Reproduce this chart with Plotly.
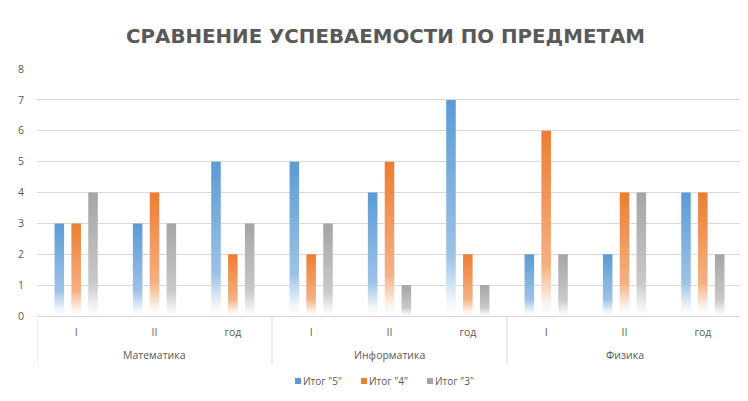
import plotly.graph_objects as go

# ---- data ----
groups = ["Математика", "Информатика", "Физика"]
periods = ["I", "II", "год"]
series_names = ['Итог "5"', 'Итог "4"', 'Итог "3"']
itog5 = [3, 3, 5, 5, 4, 7, 2, 2, 4]
itog4 = [3, 4, 2, 2, 5, 2, 6, 4, 4]
itog3 = [4, 3, 3, 3, 1, 1, 2, 4, 2]
y_ticks = [0, 1, 2, 3, 4, 5, 6, 7, 8]

colors = ["#5B9BD5", "#ED7D31", "#A5A5A5"]
mid_colors = ["#9DC3E6", "#F4B183", "#C9C9C9"]
pale_colors = ["#F1F6FB", "#FDF3EC", "#F4F4F4"]
series = [itog5, itog4, itog3]

n_cat = len(groups) * len(periods)
cat_pos = list(range(n_cat))
cat_labels = [p for g in groups for p in periods]

bar_w = 0.122
step = 0.215
offsets = [-step, 0, step]

# page has an 8px body margin: the figure is sized so it fills the window exactly
FIG_W, FIG_H = 740, 393
PLOT_L, PLOT_T, PLOT_W, PLOT_H = 29, 61, 705, 247

fig = go.Figure()

for si, vals in enumerate(series):
    cs = [[0.0, "rgba(255,255,255,1)"], [0.07, pale_colors[si]],
          [0.27, mid_colors[si]], [1.0, colors[si]]]
    for ci, v in enumerate(vals):
        xc = cat_pos[ci] + offsets[si]
        xs = [xc - bar_w / 2, xc + bar_w / 2, xc + bar_w / 2, xc - bar_w / 2, xc - bar_w / 2]
        ys = [0, 0, v, v, 0]
        fig.add_trace(go.Scatter(
            x=xs, y=ys, mode="lines", fill="toself",
            line=dict(width=0, color=colors[si]),
            fillgradient=dict(type="vertical", colorscale=cs, start=0, stop=v),
            name=series_names[si], legendgroup=series_names[si],
            showlegend=False, hoverinfo="skip"))

# group dividers
div_pos = [-0.5] + [len(periods) * (gi + 1) - 0.5 for gi in range(len(groups))]
for xp in div_pos:
    fig.add_shape(type="line", xref="x", yref="paper", x0=xp, x1=xp, y0=0, y1=-0.195,
                  line=dict(color="#D9D9D9", width=1))

# group labels
for gi, g in enumerate(groups):
    fig.add_annotation(x=gi * len(periods) + (len(periods) - 1) / 2, y=-0.158,
                       xref="x", yref="paper", text=g, showarrow=False,
                       yanchor="middle", font=dict(size=10.5, color="#595959"))

# legend (drawn compactly, like the original); offsets in px from plot left / bottom
leg_dx = [258, 324, 390]
for si, name in enumerate(series_names):
    fig.add_shape(type="rect", xref="paper", yref="paper",
                  x0=leg_dx[si] / PLOT_W, x1=(leg_dx[si] + 6) / PLOT_W,
                  y0=-68 / PLOT_H, y1=-62 / PLOT_H,
                  line=dict(width=0), fillcolor=colors[si])
    fig.add_annotation(x=(leg_dx[si] + 6) / PLOT_W, y=-65 / PLOT_H,
                       xref="paper", yref="paper", text=name, showarrow=False,
                       xanchor="left", yanchor="middle",
                       font=dict(size=10, color="#595959"))

fig.update_layout(
    width=FIG_W, height=FIG_H,
    margin=dict(l=PLOT_L, r=FIG_W - PLOT_L - PLOT_W, t=PLOT_T,
                b=FIG_H - PLOT_T - PLOT_H, autoexpand=False),
    paper_bgcolor="white", plot_bgcolor="white",
    font=dict(family="Open Sans, Noto Sans, sans-serif", color="#595959"),
    title=dict(text="<b>СРАВНЕНИЕ УСПЕВАЕМОСТИ ПО ПРЕДМЕТАМ</b>", x=377.5 / FIG_W,
               xanchor="center", y=1 - 28 / FIG_H, yanchor="middle",
               font=dict(family="DejaVu Sans", size=19.8, color="#595959")),
    xaxis=dict(range=[-0.5, n_cat - 0.5], tickvals=cat_pos, ticktext=cat_labels,
               showgrid=False, zeroline=False, showline=True, linecolor="#D9D9D9",
               ticks="", tickfont=dict(size=10.5, color="#595959"), ticklabelstandoff=6,
               automargin=False, fixedrange=True),
    yaxis=dict(range=[0, 8], tickvals=y_ticks, showgrid=True, gridcolor="#D9D9D9",
               zeroline=False, showline=False, ticks="", automargin=False,
               tickfont=dict(size=10.5, color="#595959"), ticklabelstandoff=12),
    showlegend=False,
)

fig.write_html("out.html")
